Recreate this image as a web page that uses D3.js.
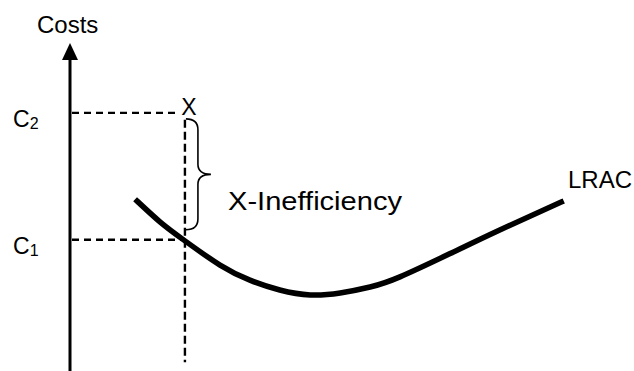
<!DOCTYPE html>
<html>
<head>
<meta charset="utf-8">
<script src="https://cdn.jsdelivr.net/npm/d3@7"></script>
<style>
  body { margin: 0; background: #fff; }
  text { font-family: "Liberation Sans", Arial, sans-serif; fill: #000; }
</style>
</head>
<body>
<div id="chart"></div>
<script>
// chart size
const WIDTH = 634;
const HEIGHT = 371;

// LRAC curve (quantity, cost) in chart units
const lracQty = [11.9, 16.0, 20.2, 26.6, 31.9, 37.2, 42.6, 47.9, 53.2, 58.5, 67.4, 76.2, 87.1];
const lracCost = [51.8, 45.4, 39.9, 32.3, 27.7, 24.7, 23.2, 23.8, 25.6, 28.7, 35.8, 43.0, 51.5];

// cost levels and the firm's output
const costLevels = [40, 78.7];
const costLabels = ["1", "2"];
const outputQty = 20.2;

// scales
const x = d3.scaleLinear().domain([0, 100]).range([70, 634]);
const y = d3.scaleLinear().domain([0, 100]).range([371, 43]);

const svg = d3.select("#chart")
  .append("svg")
  .attr("width", WIDTH)
  .attr("height", HEIGHT);

// y axis with arrow head
svg.append("line")
  .attr("x1", x(0)).attr("x2", x(0))
  .attr("y1", y(0)).attr("y2", y(95.5))
  .attr("stroke", "#000")
  .attr("stroke-width", 3);
svg.append("path")
  .attr("d", `M${x(0)},${y(100)} L${x(0) - 8},${y(100) + 17} L${x(0) + 8},${y(100) + 17} Z`)
  .attr("fill", "#000");

svg.append("text")
  .attr("x", 37)
  .attr("y", 33)
  .attr("font-size", 24)
  .text("Costs");

// cost labels C1, C2
costLevels.forEach((c, i) => {
  const t = svg.append("text")
    .attr("x", 13)
    .attr("y", y(c) + 14)
    .attr("font-size", 23);
  t.append("tspan").text("C");
  t.append("tspan").attr("font-size", 16).attr("dy", 2).text(costLabels[i]);
});

// dashed guides
svg.append("line")
  .attr("x1", x(0) + 2).attr("x2", x(outputQty) - 4)
  .attr("y1", y(costLevels[1])).attr("y2", y(costLevels[1]))
  .attr("stroke", "#000").attr("stroke-width", 2.4).attr("stroke-dasharray", "7,5");
svg.append("line")
  .attr("x1", x(0) + 2).attr("x2", x(outputQty))
  .attr("y1", y(costLevels[0])).attr("y2", y(costLevels[0]))
  .attr("stroke", "#000").attr("stroke-width", 2.4).attr("stroke-dasharray", "7,5");
svg.append("line")
  .attr("x1", x(outputQty) + 1).attr("x2", x(outputQty) + 1)
  .attr("y1", y(costLevels[1]) + 7).attr("y2", y(2.7))
  .attr("stroke", "#000").attr("stroke-width", 2.4).attr("stroke-dasharray", "8,4");

// point X
svg.append("text")
  .attr("x", x(outputQty) + 5)
  .attr("y", y(costLevels[1]) + 2)
  .attr("text-anchor", "middle")
  .attr("font-size", 23)
  .text("X");

// brace between C2 and C1
const bx = x(outputQty) + 2;
const braceTop = y(costLevels[1]) + 6;
const braceBot = y(costLevels[0]) - 10;
const braceMid = (braceTop + braceBot) / 2;
svg.append("path")
  .attr("d",
    `M${bx},${braceTop} Q${bx + 12},${braceTop} ${bx + 12},${braceTop + 11} L${bx + 12},${braceMid - 10}` +
    ` Q${bx + 12},${braceMid} ${bx + 25},${braceMid} Q${bx + 12},${braceMid} ${bx + 12},${braceMid + 10}` +
    ` L${bx + 12},${braceBot - 11} Q${bx + 12},${braceBot} ${bx},${braceBot}`)
  .attr("fill", "none")
  .attr("stroke", "#000")
  .attr("stroke-width", 1.6);

svg.append("text")
  .attr("x", 228)
  .attr("y", 210)
  .attr("font-size", 25)
  .attr("textLength", 174)
  .attr("lengthAdjust", "spacingAndGlyphs")
  .text("X-Inefficiency");

// LRAC curve
const line = d3.line()
  .x((d, i) => x(lracQty[i]))
  .y((d, i) => y(lracCost[i]))
  .curve(d3.curveNatural);
svg.append("path")
  .datum(lracQty)
  .attr("d", line)
  .attr("fill", "none")
  .attr("stroke", "#000")
  .attr("stroke-width", 5.5)
  .attr("stroke-linecap", "square");

svg.append("text")
  .attr("x", 568)
  .attr("y", 188)
  .attr("font-size", 24)
  .text("LRAC");
</script>
</body>
</html>
